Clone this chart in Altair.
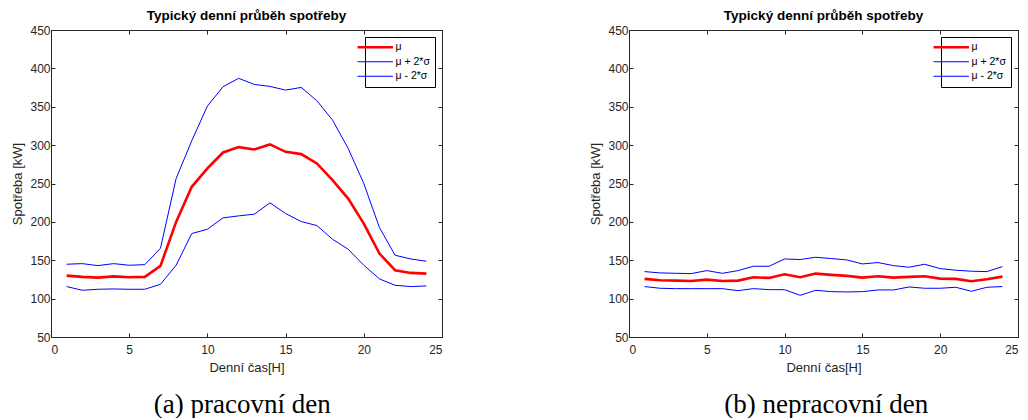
import altair as alt
import pandas as pd

hours = list(range(1, 25))

# pracovní den
work_mean = [130.0, 128.3, 127.4, 129.0, 127.8, 128.3, 142.6, 200.0, 245.7, 269.6, 290.4, 297.4,
             294.3, 300.9, 291.3, 288.3, 276.1, 254.3, 230.4, 197.8, 158.7, 137.0, 133.5, 132.6]
work_upper = [144.8, 145.6, 143.0, 145.6, 143.5, 144.3, 165.7, 256.5, 305.7, 350.9, 376.1, 387.0,
              379.1, 376.5, 371.7, 375.2, 357.8, 332.6, 295.7, 250.0, 192.6, 156.5, 151.7, 148.7]
work_lower = [115.7, 110.9, 112.2, 112.6, 112.2, 112.2, 118.7, 143.5, 184.8, 190.4, 205.2, 207.8,
              210.0, 224.8, 210.9, 200.4, 195.2, 177.4, 164.3, 143.5, 125.7, 117.4, 115.7, 116.5]

# nepracovní den
off_mean = [125.7, 124.0, 123.5, 123.0, 124.8, 123.0, 123.5, 127.8, 127.0, 131.7, 127.8, 132.6,
            130.9, 129.6, 127.4, 129.1, 127.4, 128.3, 129.1, 126.1, 125.7, 122.6, 125.2, 128.7]
off_upper = [135.2, 133.5, 133.0, 132.6, 136.5, 133.0, 136.5, 142.2, 142.2, 151.7, 150.9, 153.9,
             152.2, 150.4, 145.2, 147.0, 143.0, 140.9, 144.8, 139.1, 137.0, 135.7, 135.2, 141.7]
off_lower = [115.7, 113.5, 113.0, 113.0, 113.0, 113.0, 110.4, 113.0, 111.7, 111.7, 104.3, 110.9,
             109.1, 108.7, 109.1, 111.3, 111.3, 115.2, 113.5, 113.5, 114.8, 109.6, 114.8, 115.7]

series_names = ["μ", "μ + 2*σ", "μ - 2*σ"]
series_colors = ["#ff0000", "#0000ff", "#0000ff"]
MEAN_W = 2.6
BAND_W = 1.0

x_ticks = [0, 5, 10, 15, 20, 25]
y_ticks = [50, 100, 150, 200, 250, 300, 350, 400, 450]

panel_title = "Typický denní průběh spotřeby"
captions = ["(a) pracovní den", "(b) nepracovní den"]

FONT = "Liberation Sans"
AX = "#262626"


def frame(mean, upper, lower):
    rows = []
    for name, vals in zip(series_names, [mean, upper, lower]):
        for h, v in zip(hours, vals):
            rows.append({"hod": h, "val": v, "serie": name})
    return pd.DataFrame(rows)


def panel(df, caption, w, cap_dx):
    xs = alt.Scale(domain=[0, 25], nice=False)
    ys = alt.Scale(domain=[50, 450], nice=False)
    tick = alt.ExprRef(expr="-4")
    leg = alt.Legend(
        title=None, orient="top-right", offset=7, strokeColor="#000000", fillColor="#ffffff",
        padding=5, symbolType="stroke", symbolSize=1250, labelFont=FONT, labelFontSize=10.5,
        labelColor="#000000", rowPadding=3.5, labelOffset=15,
        symbolStrokeWidth=alt.ExprRef(
            expr=f"datum.value === '{series_names[0]}' ? {MEAN_W} : {BAND_W}"),
    )
    base = alt.Chart(df)
    lines = base.mark_line().encode(
        x=alt.X("hod:Q", scale=xs, axis=alt.Axis(
            title="Denní čas[H]", values=x_ticks, tickSize=tick, grid=False, labelPadding=11,
            titleY=24, titleBaseline="top")),
        y=alt.Y("val:Q", scale=ys, axis=alt.Axis(
            title="Spotřeba [kW]", values=y_ticks, tickSize=tick, grid=False, labelPadding=5,
            titlePadding=5)),
        color=alt.Color("serie:N", scale=alt.Scale(domain=series_names, range=series_colors), legend=leg),
        strokeWidth=alt.condition(alt.datum.serie == series_names[0], alt.value(MEAN_W), alt.value(BAND_W)),
    )
    mirror = base.mark_point(opacity=0).encode(
        x=alt.X("hod:Q", scale=xs, axis=alt.Axis(orient="top", title=None, labels=False,
                                                  values=x_ticks, tickSize=tick, grid=False)),
        y=alt.Y("val:Q", scale=ys, axis=alt.Axis(orient="right", title=None, labels=False,
                                                  values=y_ticks, tickSize=tick, grid=False)),
    )
    layer = alt.layer(lines, mirror).resolve_axis(x="independent", y="independent").properties(
        width=w, height=307,
        title=alt.Title(panel_title, font=FONT, fontSize=13.5, fontWeight="bold", color="#000000",
                        offset=2, anchor="middle"),
    )
    return alt.vconcat(layer, title=alt.Title(caption, orient="bottom", font="Liberation Serif",
                                              fontSize=27, fontWeight="normal", color="#000000",
                                              offset=18, anchor="middle", dx=cap_dx)
                       ).resolve_scale(color="independent").resolve_legend(color="independent")


left = panel(frame(work_mean, work_upper, work_lower), captions[0], 391, 15)
right = panel(frame(off_mean, off_upper, off_lower), captions[1], 389, 22)

chart = alt.hconcat(left, right, spacing=146).resolve_scale(color="independent").resolve_legend(
    color="independent"
).properties(
    padding={"left": 3, "top": 0, "right": 0, "bottom": 0}
).configure_view(stroke=None).configure_axis(
    labelFont=FONT, labelFontSize=12, labelColor=AX, titleFont=FONT, titleFontSize=13,
    titleFontWeight="normal", titleColor=AX, domainColor=AX, tickColor=AX, domainWidth=1, tickWidth=1,
).configure_concat(spacing=0)

chart.save("out.html", embed_options={"renderer": "svg", "actions": False})
